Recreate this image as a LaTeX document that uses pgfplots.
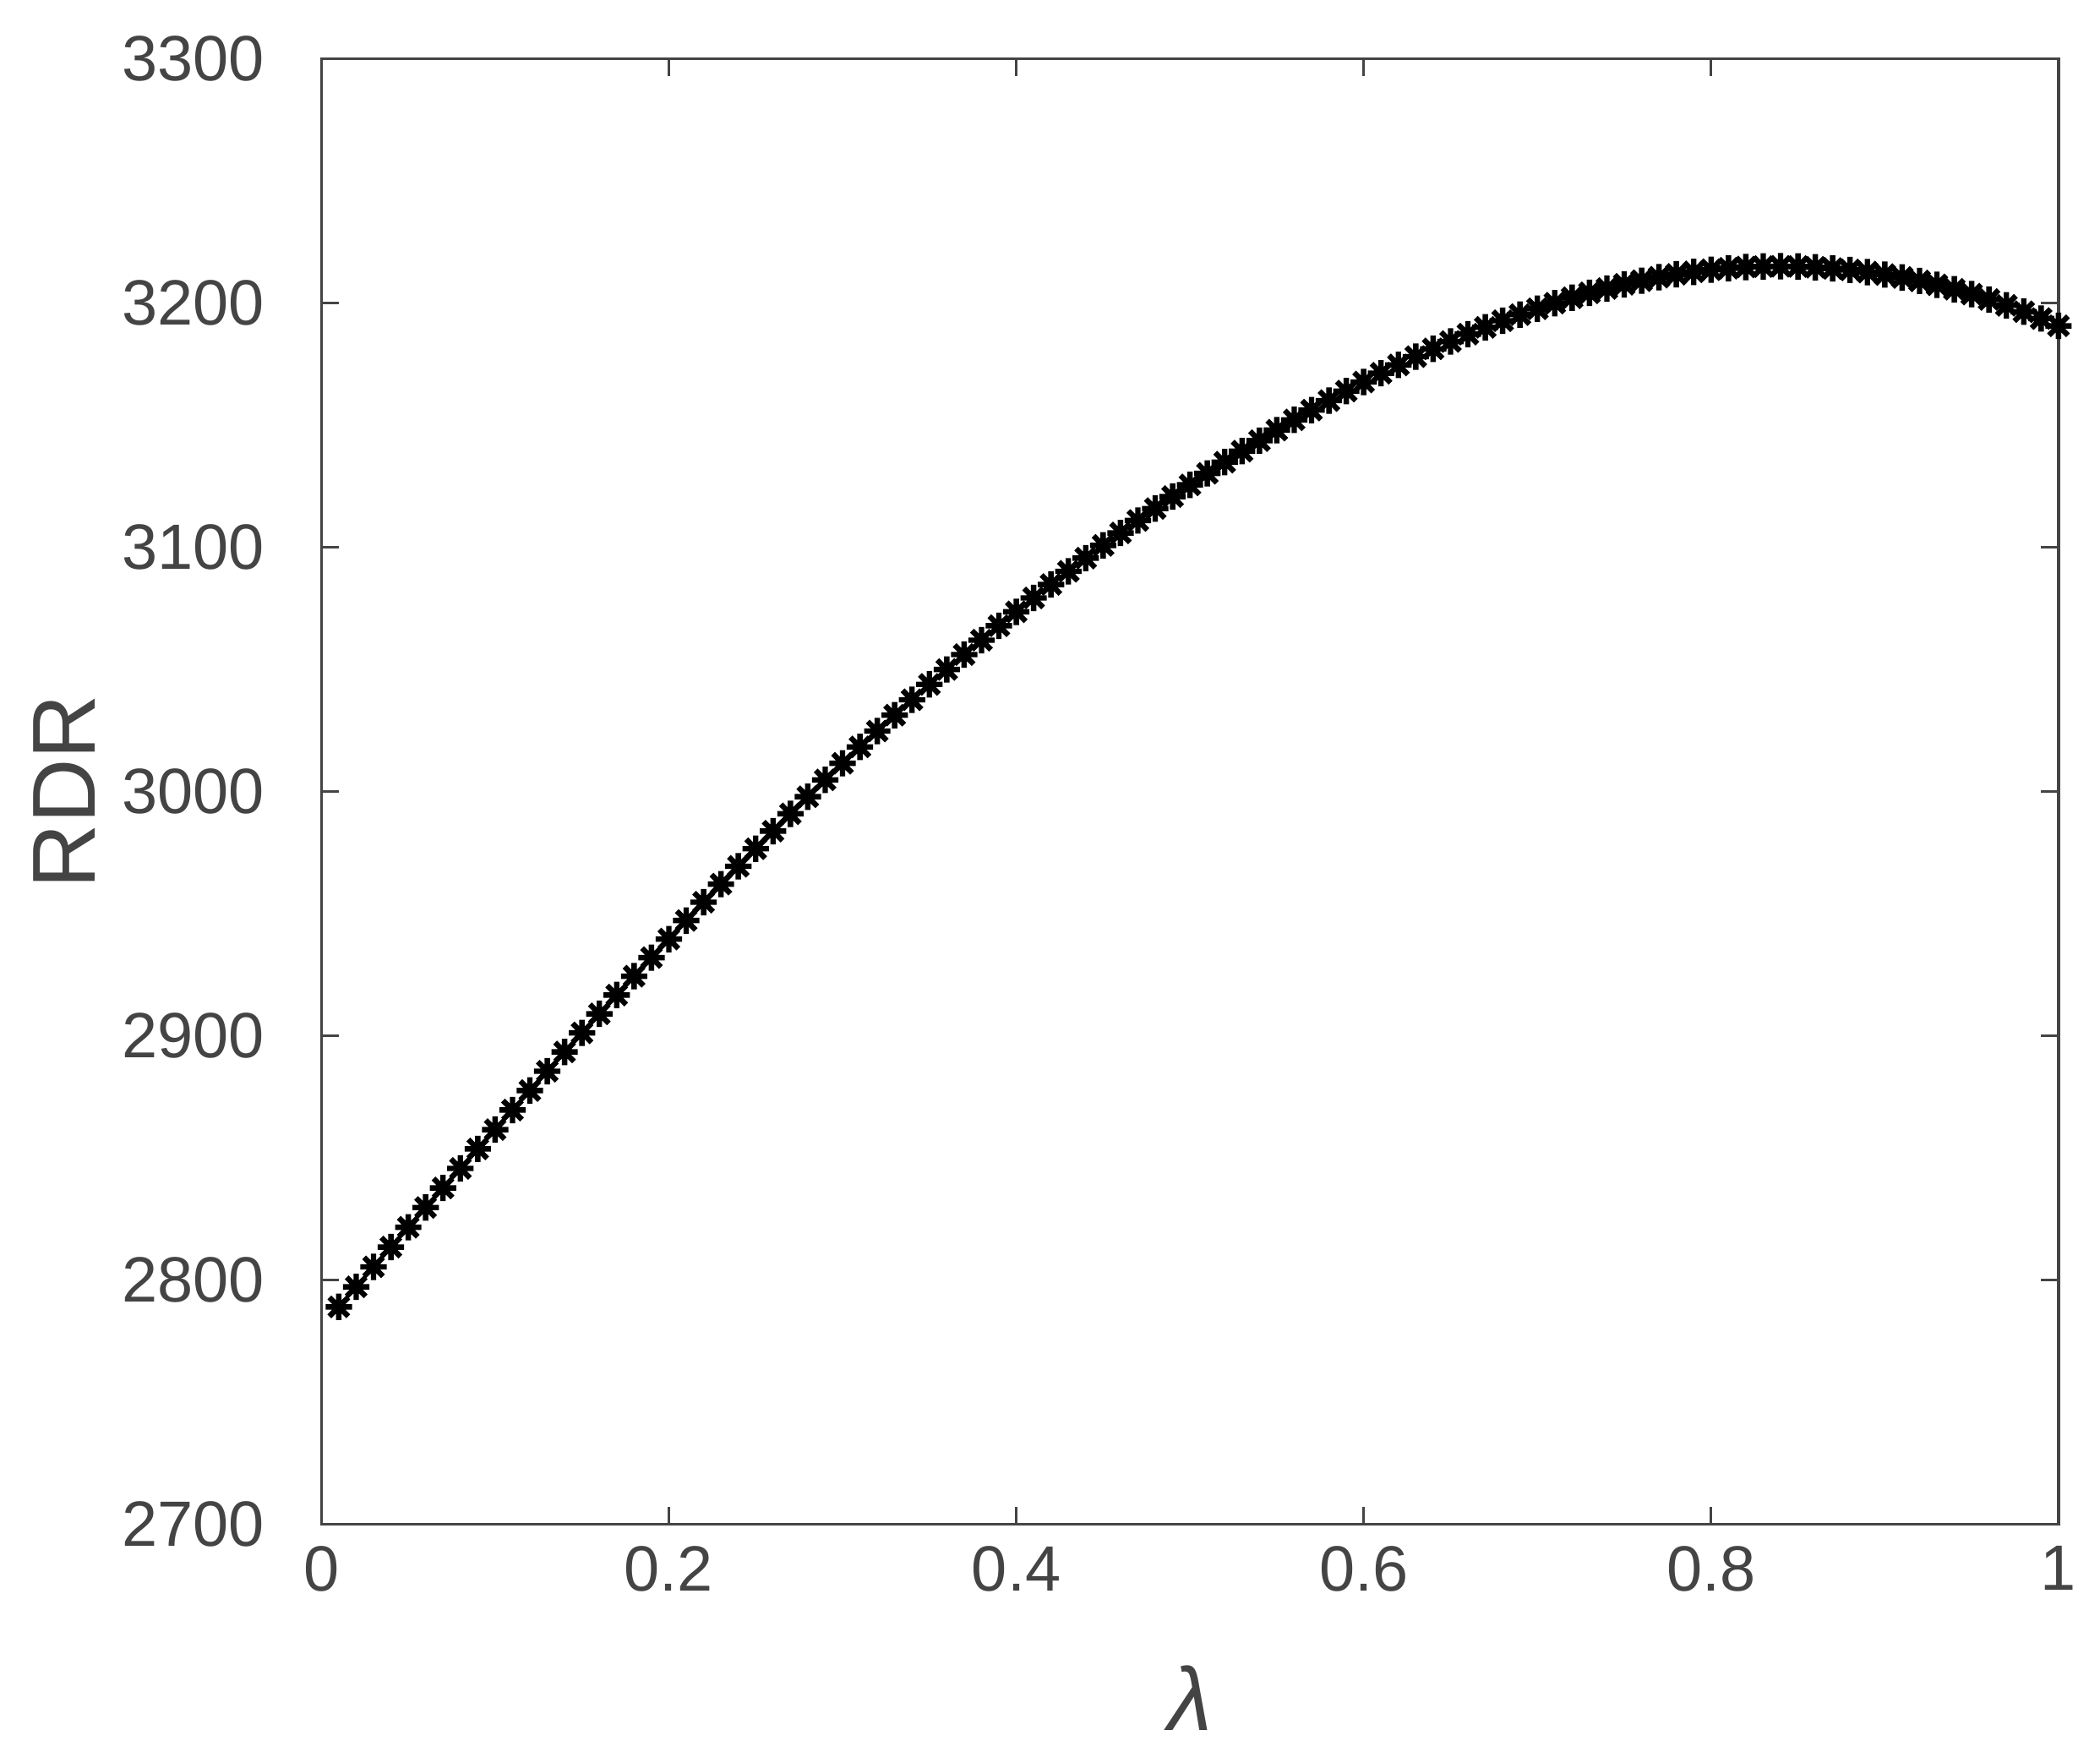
\documentclass[border=0pt]{standalone}
\usepackage{pgfplots}
\pgfplotsset{compat=1.18}
\usepackage{fontspec}
\setmainfont{Liberation Sans}
\definecolor{axgray}{HTML}{444444}

% MATLAB-like '*' marker: four strokes through the centre
\pgfdeclareplotmark{mstar}{%
  \pgfpathmoveto{\pgfqpoint{-\pgfplotmarksize}{0pt}}\pgfpathlineto{\pgfqpoint{\pgfplotmarksize}{0pt}}%
  \pgfpathmoveto{\pgfqpoint{0pt}{-\pgfplotmarksize}}\pgfpathlineto{\pgfqpoint{0pt}{\pgfplotmarksize}}%
  \pgfpathmoveto{\pgfqpoint{-0.72\pgfplotmarksize}{-0.72\pgfplotmarksize}}\pgfpathlineto{\pgfqpoint{0.72\pgfplotmarksize}{0.72\pgfplotmarksize}}%
  \pgfpathmoveto{\pgfqpoint{-0.72\pgfplotmarksize}{0.72\pgfplotmarksize}}\pgfpathlineto{\pgfqpoint{0.72\pgfplotmarksize}{-0.72\pgfplotmarksize}}%
  \pgfusepathqstroke}

\begin{document}
\begin{tikzpicture}
\path[use as bounding box] (-2.40cm,-1.70cm) rectangle (13.28cm,11.38cm);
\begin{axis}[
  scale only axis,
  width=12.97cm, height=10.94cm,
  xmin=0, xmax=1, ymin=2700, ymax=3300,
  xtick={0,0.2,...,1}, ytick={2700,2800,...,3300},
  tick align=inside, major tick length=1.3mm,
  axis line style={axgray, line width=0.6pt},
  every tick/.style={axgray, line width=0.6pt},
  ticklabel style={font=\fontsize{13.6}{13.6}\selectfont, text=axgray},
  /pgf/number format/assume math mode=true,
  /pgf/number format/.cd, fixed, precision=1, 1000 sep={},
  /pgfplots/.cd,
  xlabel={\textit{λ}}, ylabel={RDR},
  label style={font=\fontsize{19}{19}\selectfont, text=axgray},
  xlabel style={at={(axis description cs:0.5,-0.1188)}, anchor=center},
  ylabel style={at={(axis description cs:-0.148,0.5)}, anchor=center},
  yticklabel style={xshift=-3.0mm},
  xticklabel style={yshift=-0.4mm},
]
\addplot[only marks, mark=mstar, mark size=2.8pt, mark options={line width=1.15pt, black}] coordinates {
(0.01,2789.0)(0.02,2797.2)(0.03,2805.4)(0.04,2813.5)(0.05,2821.6)
(0.06,2829.7)(0.07,2837.7)(0.08,2845.7)(0.09,2853.7)(0.10,2861.6)
(0.11,2869.6)(0.12,2877.6)(0.13,2885.5)(0.14,2893.4)(0.15,2901.2)
(0.16,2909.0)(0.17,2916.7)(0.18,2924.4)(0.19,2932.0)(0.20,2939.6)
(0.21,2947.2)(0.22,2954.7)(0.23,2962.1)(0.24,2969.4)(0.25,2976.6)
(0.26,2983.8)(0.27,2990.9)(0.28,2997.9)(0.29,3004.8)(0.30,3011.6)
(0.31,3018.3)(0.32,3024.8)(0.33,3031.3)(0.34,3037.6)(0.35,3043.9)
(0.36,3050.0)(0.37,3056.1)(0.38,3062.0)(0.39,3067.9)(0.40,3073.6)
(0.41,3079.3)(0.42,3084.8)(0.43,3090.2)(0.44,3095.6)(0.45,3100.8)
(0.46,3105.9)(0.47,3111.0)(0.48,3115.9)(0.49,3120.8)(0.50,3125.6)
(0.51,3130.3)(0.52,3134.9)(0.53,3139.4)(0.54,3143.7)(0.55,3148.0)
(0.56,3152.2)(0.57,3156.2)(0.58,3160.1)(0.59,3164.0)(0.60,3167.7)
(0.61,3171.3)(0.62,3174.7)(0.63,3178.1)(0.64,3181.3)(0.65,3184.3)
(0.66,3187.3)(0.67,3190.1)(0.68,3192.8)(0.69,3195.3)(0.70,3197.7)
(0.71,3200.0)(0.72,3202.2)(0.73,3204.2)(0.74,3206.0)(0.75,3207.7)
(0.76,3209.2)(0.77,3210.6)(0.78,3211.8)(0.79,3212.8)(0.80,3213.7)
(0.81,3214.3)(0.82,3214.8)(0.83,3215.0)(0.84,3215.1)(0.85,3215.0)
(0.86,3214.7)(0.87,3214.2)(0.88,3213.6)(0.89,3212.7)(0.90,3211.7)
(0.91,3210.5)(0.92,3209.1)(0.93,3207.5)(0.94,3205.7)(0.95,3203.7)
(0.96,3201.5)(0.97,3199.1)(0.98,3196.5)(0.99,3193.7)(1.00,3190.7)
};
\end{axis}
\end{tikzpicture}
\end{document}
